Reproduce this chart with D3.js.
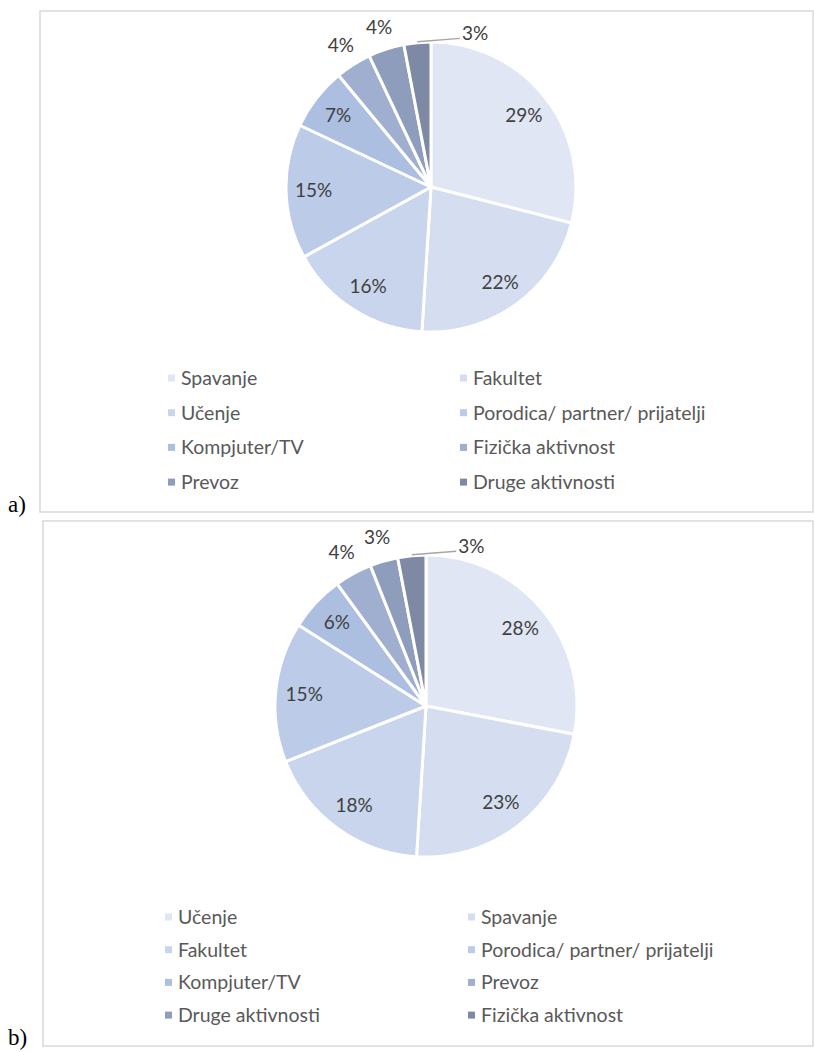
<!DOCTYPE html>
<html>
<head>
<meta charset="utf-8">
<script src="https://cdn.jsdelivr.net/npm/d3@7"></script>
<style>
  html, body { margin: 0; padding: 0; background: #fff; }
  svg { display: block; }
</style>
</head>
<body>
<svg id="chart" width="814" height="1052"></svg>
<script>
// ---- data ----
const categoriesA = ["Spavanje", "Fakultet", "Učenje", "Porodica/ partner/ prijatelji", "Kompjuter/TV", "Fizička aktivnost", "Prevoz", "Druge aktivnosti"];
const valuesA = [29, 22, 16, 15, 7, 4, 4, 3];
const categoriesB = ["Učenje", "Spavanje", "Fakultet", "Porodica/ partner/ prijatelji", "Kompjuter/TV", "Prevoz", "Druge aktivnosti", "Fizička aktivnost"];
const valuesB = [28, 23, 18, 15, 6, 4, 3, 3];
const panelLabels = ["a)", "b)"];
const sliceColors = ["#e0e6f4", "#d5ddf0", "#c9d5ec", "#bccbe8", "#adbfe1", "#a0afcf", "#8e9dbb", "#7e8aa3"];

// ---- layout ----
const panels = [
  { cats: categoriesA, vals: valuesA, label: panelLabels[0],
    box: [40, 11, 813, 512], cx: 431, cy: 187, r: 145,
    legX: [168, 460], legY0: 378, legDy: 34.7, labelBase: 512 },
  { cats: categoriesB, vals: valuesB, label: panelLabels[1],
    box: [43, 521, 813, 1046], cx: 426, cy: 706, r: 151,
    legX: [165, 468], legY0: 917, legDy: 32.7, labelBase: 1045 }
];

const svg = d3.select("#chart");
const color = d3.scaleOrdinal().range(sliceColors);

panels.forEach(p => {
  const g = svg.append("g");
  const [x0, y0, x1, y1] = p.box;
  g.append("rect").attr("x", x0).attr("y", y0).attr("width", x1 - x0).attr("height", y1 - y0)
    .attr("fill", "#fff").attr("stroke", "#d9d9d9").attr("stroke-width", 1.5);

  g.append("text").attr("x", 8).attr("y", p.labelBase)
    .attr("font-family", "'Liberation Serif', 'Times New Roman', serif")
    .attr("font-size", 23).attr("fill", "#000").text(p.label);

  const data = p.cats.map((c, i) => ({ cat: c, val: p.vals[i], idx: i }));
  color.domain(d3.range(data.length));
  const pie = d3.pie().sort(null).value(d => d.val);
  const arcs = pie(data);
  const arc = d3.arc().innerRadius(0).outerRadius(p.r);
  const inLab = d3.arc().innerRadius(p.r * 0.81).outerRadius(p.r * 0.81);
  const outLab = d3.arc().innerRadius(p.r * 1.16).outerRadius(p.r * 1.16);

  const pg = g.append("g").attr("transform", `translate(${p.cx},${p.cy})`);
  pg.selectAll("path").data(arcs).join("path")
    .attr("d", arc)
    .attr("fill", d => color(d.data.idx))
    .attr("stroke", "#fff").attr("stroke-width", 3).attr("stroke-linejoin", "round");

  const fmt = v => v + "%";
  const last = arcs.length - 1;
  arcs.forEach((a, i) => {
    const txt = fmt(a.data.val);
    if (a.data.val >= 5) {
      const [lx, ly] = inLab.centroid(a);
      pg.append("text").attr("x", lx).attr("y", ly).attr("dy", "0.35em")
        .attr("text-anchor", "middle").attr("font-family", "Lato, sans-serif")
        .attr("font-size", 19).attr("fill", "#404040").text(txt);
    } else if (i !== last) {
      const [lx, ly] = outLab.centroid(a);
      pg.append("text").attr("x", lx).attr("y", ly).attr("dy", "0.35em")
        .attr("text-anchor", "middle").attr("font-family", "Lato, sans-serif")
        .attr("font-size", 19).attr("fill", "#404040").text(txt);
    } else {
      const mid = (a.startAngle + a.endAngle) / 2;
      const sx = Math.sin(mid) * (p.r + 1), sy = -Math.cos(mid) * (p.r + 1);
      const ex = p.r * 0.2, ey = -p.r * 1.025;
      pg.append("path").attr("d", `M${sx},${sy}L${ex},${ey}`)
        .attr("stroke", "#a6a6a6").attr("stroke-width", 1.5).attr("fill", "none");
      pg.append("text").attr("x", ex + 2).attr("y", ey - 5).attr("dy", "0.35em")
        .attr("text-anchor", "start").attr("font-family", "Lato, sans-serif")
        .attr("font-size", 19).attr("fill", "#404040").text(txt);
    }
  });

  // legend
  const lg = g.append("g");
  data.forEach((d, i) => {
    const col = i % 2, row = Math.floor(i / 2);
    const x = p.legX[col], y = p.legY0 + row * p.legDy;
    lg.append("rect").attr("x", x).attr("y", y - 3.5).attr("width", 7).attr("height", 7)
      .attr("fill", color(d.idx));
    lg.append("text").attr("x", x + 13).attr("y", y).attr("dy", "0.35em")
      .attr("font-family", "Lato, sans-serif").attr("font-size", 19.5)
      .attr("fill", "#595959").text(d.cat);
  });
});
</script>
</body>
</html>
